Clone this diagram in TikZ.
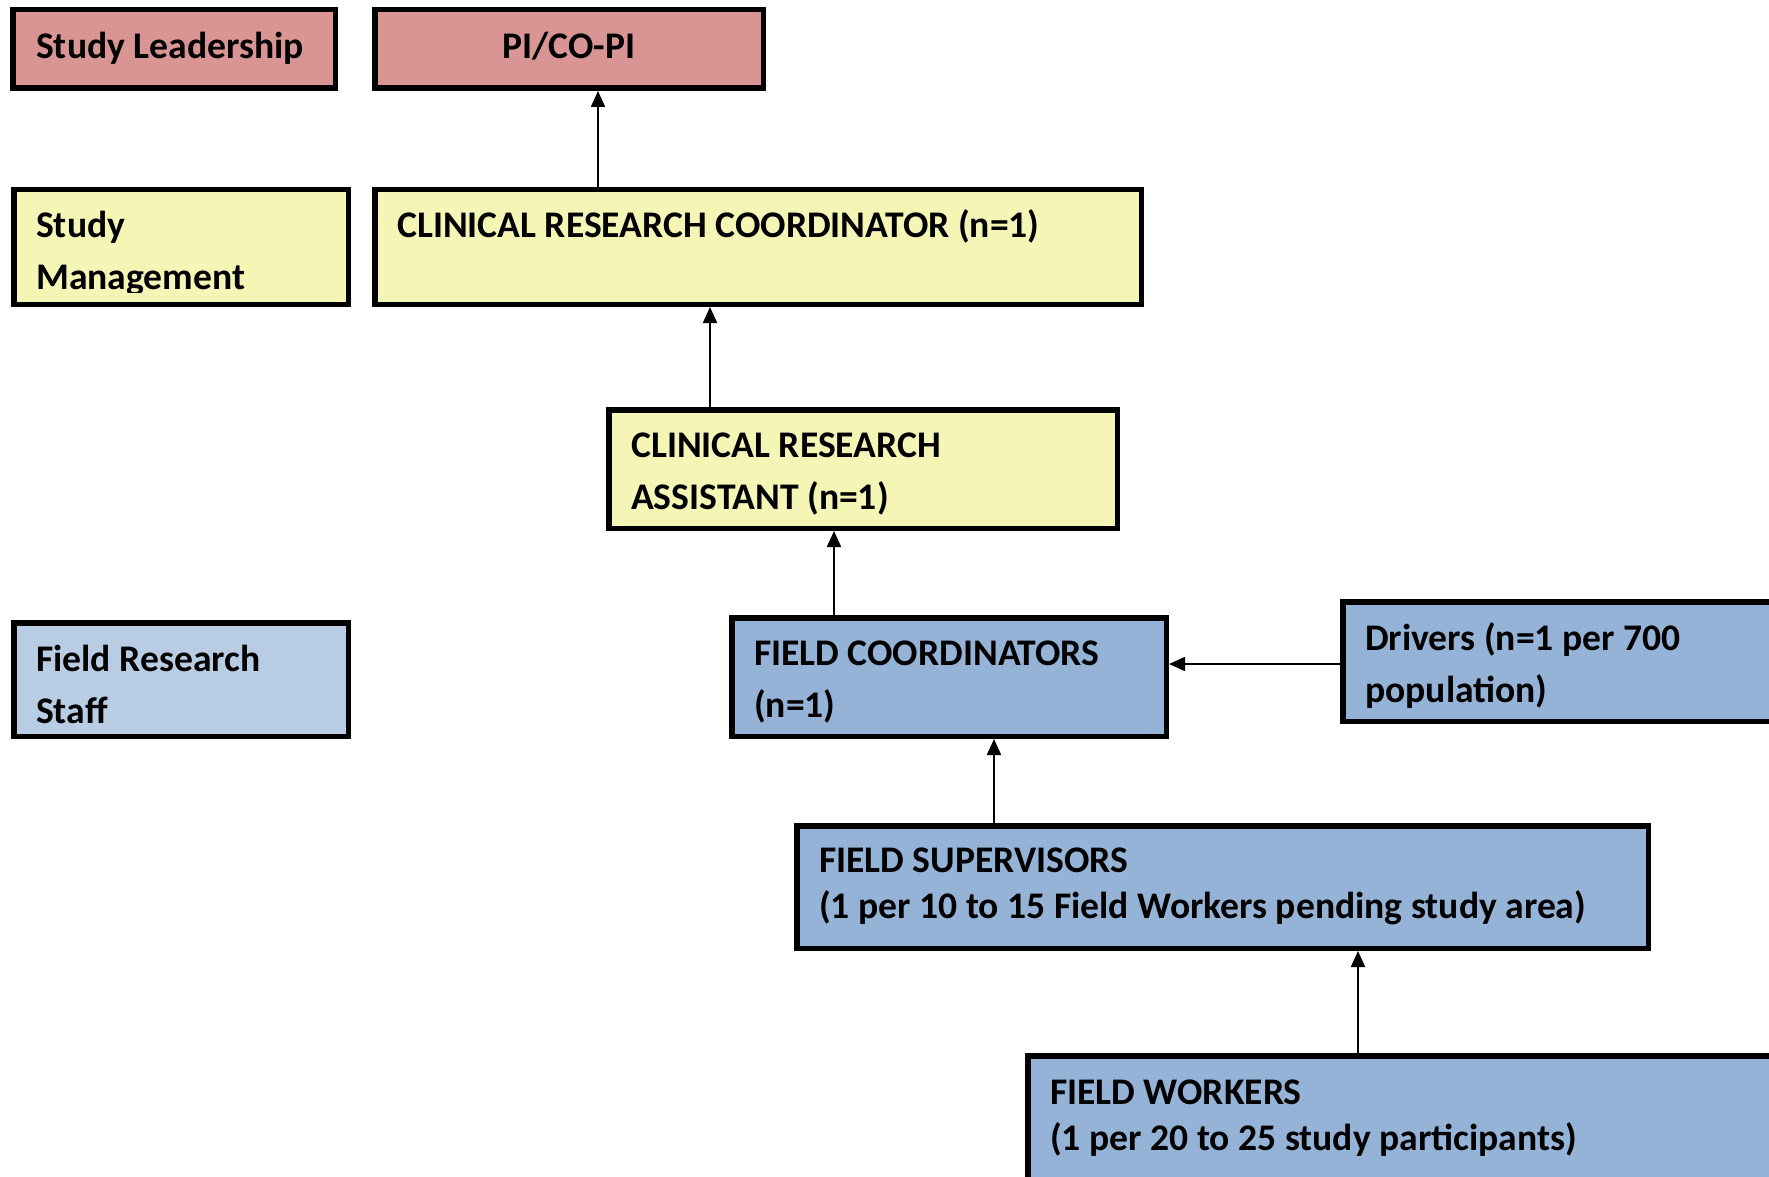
\documentclass[tikz,border=0pt]{standalone}
\usepackage{fontspec}
\setmainfont{Carlito}
\usetikzlibrary{arrows.meta,calc}
\definecolor{leadc}{HTML}{D99594}
\definecolor{mgmtc}{HTML}{F5F6B6}
\definecolor{staffl}{HTML}{B8CCE4}
\definecolor{staffc}{HTML}{95B3D7}
\begin{document}
\begin{tikzpicture}[x=1pt,y=-1pt,
  box/.style={draw=black,line width=5.5pt,inner sep=0pt,outer sep=2.75pt},
  lbl/.style={anchor=base west,inner sep=0pt,font=\fontsize{37.6}{52}\selectfont\bfseries},
  lbltight/.style={anchor=base west,inner sep=0pt,font=\fontsize{37.6}{46}\selectfont\bfseries},
  arr/.style={line width=2pt,-{Triangle[length=16pt,width=14pt]}}]
\useasboundingbox (0,0) rectangle (1769,1177);
\clip (0,0) rectangle (1769,1177);
\fill[white] (0,0) rectangle (1769,1177);
% boxes
\node[box,fill=leadc,minimum width=322.5pt,minimum height=78.5pt] (lead) at (174,49) {};
\node[box,fill=leadc,minimum width=388.5pt,minimum height=78.5pt] (pi) at (569,49) {};
\node[box,fill=mgmtc,minimum width=334.5pt,minimum height=114.5pt] (mgmt) at (181,247) {};
\node[box,fill=mgmtc,minimum width=766.5pt,minimum height=114.5pt] (crc) at (758,247) {};
\node[box,fill=mgmtc,minimum width=508.5pt,minimum height=118.5pt] (cra) at (863,469) {};
\node[box,fill=staffl,minimum width=334.5pt,minimum height=113.5pt] (frs) at (181,679.5) {};
\node[box,fill=staffc,minimum width=434.5pt,minimum height=118.5pt] (fc) at (949,677) {};
\node[box,fill=staffc,minimum width=454.5pt,minimum height=119.5pt] (drv) at (1570,661.5) {};
\node[box,fill=staffc,minimum width=851.5pt,minimum height=122.5pt] (fs) at (1222.5,887) {};
\node[box,fill=staffc,minimum width=769.5pt,minimum height=161.5pt] (fw) at (1412.5,1136.5) {};
% texts
\node[lbl] (tlead) at ($(lead.north west)+(26,52)$) {Study Leadership};
\node[lbl,anchor=base] (tpi) at ($(pi.north)+(0,52)$) {PI/CO-PI};
\begin{scope}
\clip (0,0) rectangle (351,292);
\node[lbl] (tmgmt) at ($(mgmt.north west)+(25,50)$) {\begin{tabular}[t]{@{}l@{}}Study\\Management\end{tabular}};
\end{scope}
\node[lbl] (tcrc) at ($(crc.north west)+(25,50)$) {CLINICAL RESEARCH COORDINATOR (n=1)};
\node[lbl] (tcra) at ($(cra.north west)+(25,50)$) {\begin{tabular}[t]{@{}l@{}}CLINICAL RESEARCH\\ASSISTANT (n=1)\end{tabular}};
\node[lbl] (tfrs) at ($(frs.north west)+(25,51)$) {\begin{tabular}[t]{@{}l@{}}Field Research\\Staff\end{tabular}};
\node[lbl] (tfc) at ($(fc.north west)+(25,50)$) {\begin{tabular}[t]{@{}l@{}}FIELD COORDINATORS\\(n=1)\end{tabular}};
\node[lbl] (tdrv) at ($(drv.north west)+(25,51)$) {\begin{tabular}[t]{@{}l@{}}Drivers (n=1 per 700\\population)\end{tabular}};
\node[lbltight] (tfs) at ($(fs.north west)+(25,49)$) {\begin{tabular}[t]{@{}l@{}}FIELD SUPERVISORS\\(1 per 10 to 15 Field Workers pending study area)\end{tabular}};
\node[lbltight] (tfw) at ($(fw.north west)+(25,51)$) {\begin{tabular}[t]{@{}l@{}}FIELD WORKERS\\(1 per 20 to 25 study participants)\end{tabular}};
% connectors
\coordinate (xa) at (598,0);
\coordinate (xb) at (710,0);
\coordinate (xc) at (834,0);
\coordinate (xd) at (994,0);
\coordinate (xe) at (1358,0);
\coordinate (yd) at (0,664);
\draw[arr] (crc.north -| xa) -- (pi.south -| xa);
\draw[arr] (cra.north -| xb) -- (crc.south -| xb);
\draw[arr] (fc.north -| xc) -- (cra.south -| xc);
\draw[arr] (fs.north -| xd) -- (fc.south -| xd);
\draw[arr] (fw.north -| xe) -- (fs.south -| xe);
\draw[arr] (drv.west |- yd) -- (fc.east |- yd);
\end{tikzpicture}
\end{document}
